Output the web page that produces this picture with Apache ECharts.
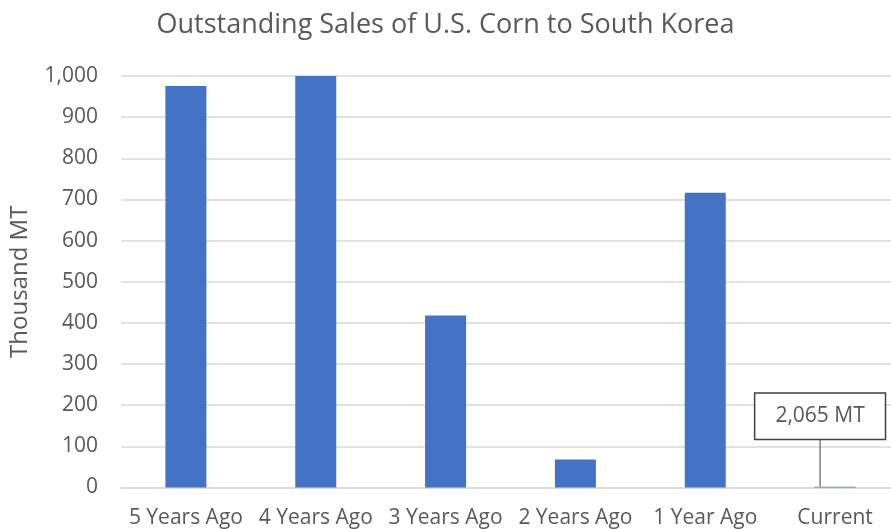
<!DOCTYPE html>
<html>
<head>
<meta charset="utf-8">
<script src="https://cdn.jsdelivr.net/npm/echarts@6/dist/echarts.min.js"></script>
<style>html,body{margin:0;padding:0;background:#fff;}#c{width:891px;height:529px;}</style>
</head>
<body>
<div id="c"></div>
<script>
var titleText = 'Outstanding Sales of U.S. Corn to South Korea';
var categories = ['5 Years Ago', '4 Years Ago', '3 Years Ago', '2 Years Ago', '1 Year Ago', 'Current'];
var salesThousandMT = [976, 1000, 418, 68, 716, 2.065];
var yAxisName = 'Thousand MT';
var yTicks = [0, 100, 200, 300, 400, 500, 600, 700, 800, 900, 1000];
var annotationIndex = 5;
var annotationText = '2,065 MT';

var FONT = 'Open Sans';
var TXT = '#595959';

var chart = echarts.init(document.getElementById('c'), null, {renderer: 'canvas'});
var data = salesThousandMT.map(function (v, i) {
  if (i === annotationIndex) {
    return {
      value: v,
      label: {
        show: true,
        position: 'top',
        distance: 5,
        formatter: annotationText,
        fontFamily: FONT,
        fontSize: 21,
        color: TXT,
        backgroundColor: '#fff',
        borderColor: '#404040',
        borderWidth: 1.5,
        padding: [12, 20, 12, 20]
      },
      labelLine: {show: true, lineStyle: {color: '#404040', width: 1}}
    };
  }
  return v;
});

var option = {
  animation: false,
  title: {
    text: titleText,
    left: 'center',
    top: 7,
    textStyle: {fontFamily: FONT, fontSize: 27, fontWeight: 'normal', color: TXT}
  },
  grid: {left: 121, top: 76, width: 779, height: 411.5, containLabel: false, outerBoundsMode: 'none'},
  xAxis: {
    type: 'category',
    data: categories,
    boundaryGap: true,
    axisLine: {show: true, lineStyle: {color: '#d9d9d9', width: 1.5}},
    axisTick: {show: false},
    axisLabel: {fontFamily: FONT, fontSize: 21, color: TXT, margin: 20, interval: 0}
  },
  yAxis: {
    type: 'value',
    min: yTicks[0],
    max: yTicks[yTicks.length - 1],
    interval: 100,
    name: yAxisName,
    nameLocation: 'middle',
    nameRotate: 90,
    nameGap: 89,
    nameTextStyle: {fontFamily: FONT, fontSize: 24, color: TXT},
    axisLine: {show: false},
    axisTick: {show: false},
    splitLine: {lineStyle: {color: '#d9d9d9', width: 1.5}},
    axisLabel: {
      fontFamily: FONT, fontSize: 21, color: TXT, margin: 23,
      formatter: function (v) { return v.toLocaleString('en-US'); }
    }
  },
  series: [{
    type: 'bar',
    data: data,
    barWidth: 41,
    itemStyle: {color: '#4472C4'},
    labelLayout: function (params) {
      if (params.dataIndex !== annotationIndex) return;
      return {dx: -15, dy: -43};
    }
  }]
};
chart.setOption(option);
</script>
</body>
</html>
